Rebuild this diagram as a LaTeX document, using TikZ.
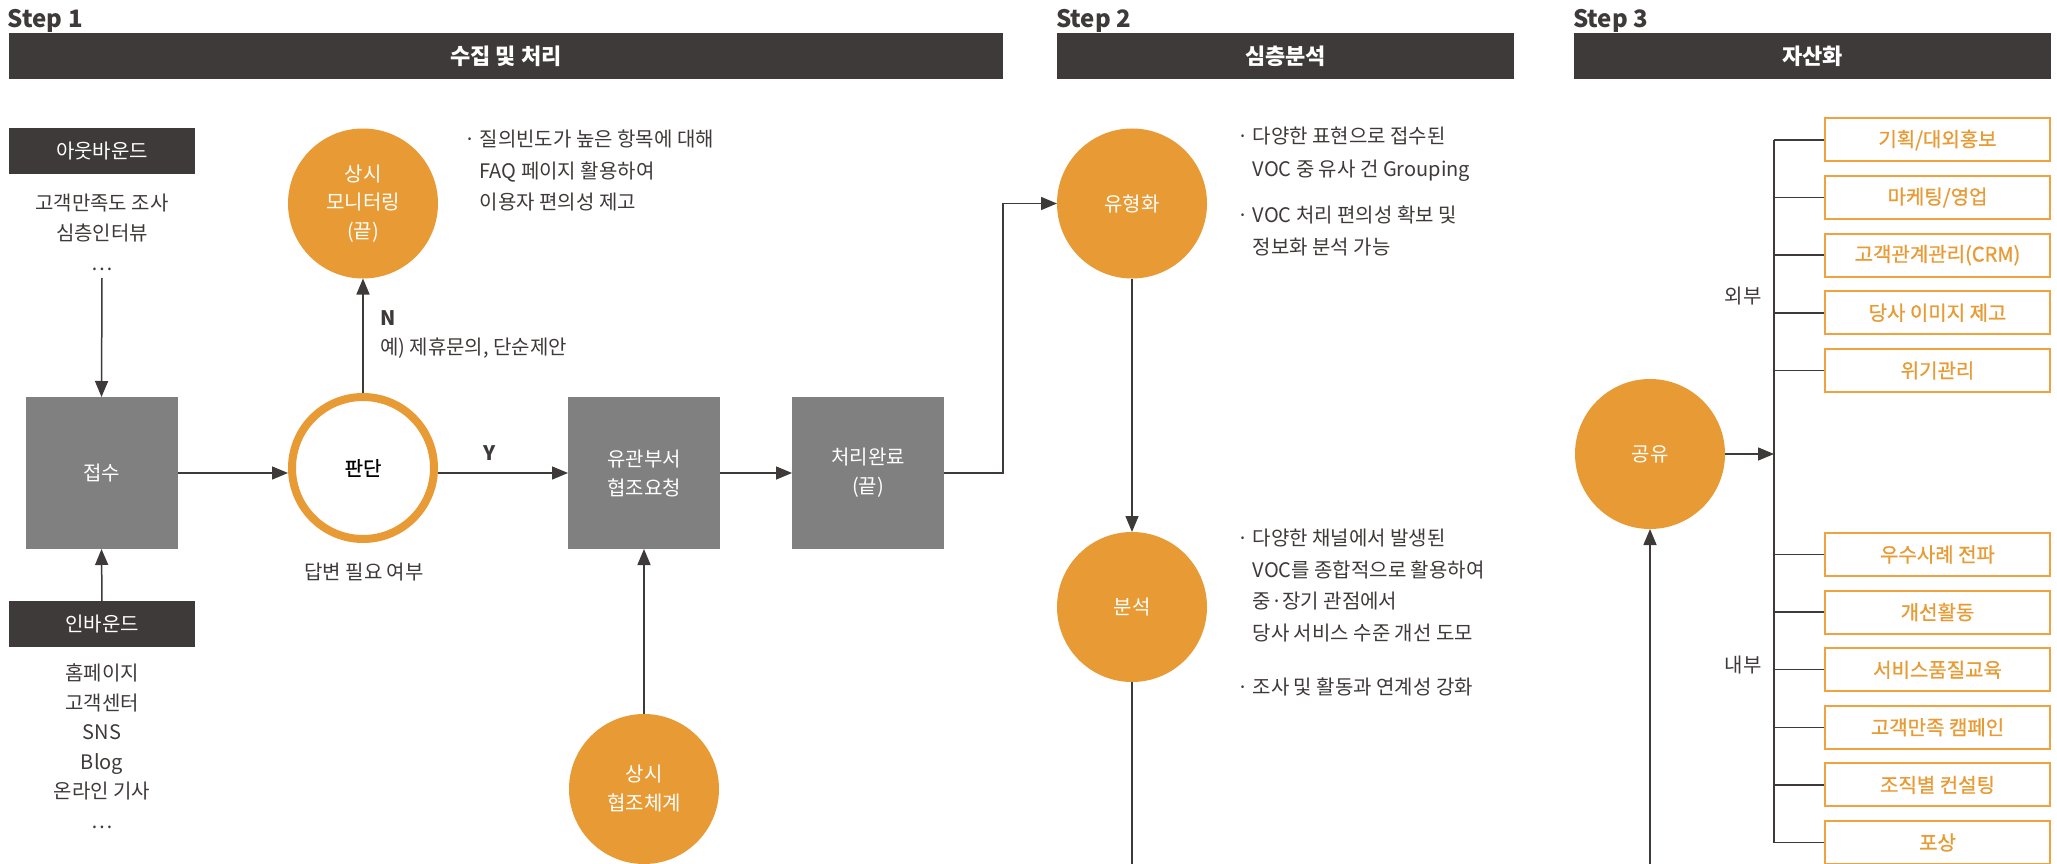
\documentclass[tikz,border=0pt]{standalone}
\usepackage{fontspec}
\setmainfont{Noto Sans CJK KR}
\newfontfamily\medfont{Noto Sans CJK KR}[FakeBold=0.8]
\usetikzlibrary{arrows.meta,calc}
\definecolor{dark}{HTML}{3E3A39}
\definecolor{orng}{HTML}{E89B34}
\definecolor{oline}{HTML}{EFA23F}
\definecolor{gbox}{HTML}{808080}
\begin{document}
\begin{tikzpicture}[x=1pt,y=-1pt,
  every node/.style={inner sep=0pt,outer sep=0pt,text=dark},
  steplbl/.style={font=\bfseries\fontsize{24pt}{24pt}\selectfont,anchor=base west},
  bar/.style={fill=dark,text=white,minimum height=46pt,font=\bfseries\fontsize{22pt}{22pt}\selectfont},
  darkbox/.style={fill=dark,text=white,minimum width=186pt,minimum height=46pt,font=\fontsize{20pt}{20pt}\selectfont},
  graybox/.style={fill=gbox,text=white,minimum size=152pt,align=center,font=\fontsize{20pt}{29pt}\selectfont},
  ocircle/.style={circle,fill=orng,text=white,minimum size=150pt,align=center,font=\fontsize{20pt}{28.5pt}\selectfont},
  ring/.style={circle,draw=orng,line width=8pt,fill=white,text=black,minimum size=142pt,outer sep=4pt,font=\medfont\fontsize{20pt}{20pt}\selectfont},
  obox/.style={draw=oline,line width=2pt,fill=white,text=orng,minimum width=225pt,minimum height=43pt,outer sep=1pt,font=\medfont\fontsize{20pt}{20pt}\selectfont},
  body/.style={font=\fontsize{20pt}{31.5pt}\selectfont},
  lbl/.style={font=\fontsize{20pt}{20pt}\selectfont},
  lblb/.style={font=\bfseries\fontsize{20pt}{20pt}\selectfont},
  ln/.style={draw=dark,line width=1.5pt},
  arr/.style={draw=dark,line width=1.5pt,-{Triangle[length=16pt,width=13pt]}}
]
\useasboundingbox (0,0) rectangle (2057,864);
\fill[white] (0,0) rectangle (2057,864);

% ---------- headers ----------
\node[steplbl] (s1) at (8,28) {Step 1};
\node[steplbl] (s2) at (1056,28) {Step 2};
\node[steplbl] (s3) at (1573,28) {Step 3};
\node[bar,minimum width=994pt] (bar1) at (506,56) {수집 및 처리};
\node[bar,minimum width=457pt] (bar2) at (1285.5,56) {심층분석};
\node[bar,minimum width=477pt] (bar3) at (1812.5,56) {자산화};

% ---------- Step 1 ----------
\node[darkbox] (outb) at (102,151) {아웃바운드};
\node[align=center,anchor=north,font=\fontsize{20pt}{30pt}\selectfont] (outlist) at (102,194) {고객만족도 조사\\심층인터뷰\\…};
\coordinate (outend) at (102,278);
\node[graybox] (jeopsu) at (101.5,473) {접수};
\node[darkbox] (inb) at (102,624) {인바운드};
\node[align=center,anchor=north,font=\fontsize{20pt}{29.5pt}\selectfont] (inlist) at (102,664) {홈페이지\\고객센터\\SNS\\Blog\\온라인 기사\\…};

\node[ring] (pandan) at (363,468) {판단};
\node[lbl] (pandanlbl) at (364,572) {답변 필요 여부};
\node[ocircle] (monitor) at (363,203.5) {상시\\모니터링\\(끝)};
\node[lblb,anchor=west] (nlbl) at (380,318) {N};
\node[lbl,anchor=west] (nex) at (380,348) {예) 제휴문의, 단순제안};
\node[lblb] (ylbl) at (490,453) {Y};
\node[body,align=left,anchor=north west] (note1) at (464,130) {·\ 질의빈도가 높은 항목에 대해\\\hphantom{·\ }FAQ 페이지 활용하여\\\hphantom{·\ }이용자 편의성 제고};

\node[graybox] (yugwan) at (644,473) {유관부서\\협조요청};
\node[graybox] (cheori) at (868,473) {처리완료\\(끝)};
\node[ocircle,font=\fontsize{20pt}{29pt}\selectfont] (hyeopjo) at (644,789) {상시\\협조체계};
\coordinate (elbow) at (1003,300);

\draw[arr] (outend) -- (jeopsu.north);
\draw[arr] (inb.north) -- (jeopsu.south);
\draw[arr] (jeopsu.east) -- (jeopsu.east -| pandan.west);
\draw[arr] (pandan.north) -- (monitor.south);
\draw[arr] (pandan.east |- yugwan.west) -- (yugwan.west);
\draw[arr] (yugwan.east) -- (cheori.west);
\draw[arr] (hyeopjo.north) -- (yugwan.south);

% ---------- Step 2 ----------
\node[ocircle] (yuhyeong) at (1132,203.5) {유형화};
\node[ocircle] (bunseok) at (1132,607) {분석};
\coordinate (bot2) at (1132,880);
\draw[arr] (cheori.east) -- (cheori.east -| elbow) |- (yuhyeong.west);
\draw[arr] (yuhyeong.south) -- (bunseok.north);
\draw[ln] (bunseok.south) -- (bot2);

\node[body,align=left,anchor=north west,font=\fontsize{20pt}{33pt}\selectfont] (note2) at (1237,127) {·\ 다양한 표현으로 접수된\\\hphantom{·\ }VOC 중 유사 건 Grouping};
\node[body,align=left,anchor=north west,font=\fontsize{20pt}{31.5pt}\selectfont] (note3) at (1237,206) {·\ VOC 처리 편의성 확보 및\\\hphantom{·\ }정보화 분석 가능};
\node[body,align=left,anchor=north west] (note4) at (1237,529) {·\ 다양한 채널에서 발생된\\\hphantom{·\ }VOC를 종합적으로 활용하여\\\hphantom{·\ }중·장기 관점에서\\\hphantom{·\ }당사 서비스 수준 개선 도모};
\node[body,align=left,anchor=north west] (note5) at (1237,678) {·\ 조사 및 활동과 연계성 강화};

% ---------- Step 3 ----------
\node[ocircle] (gongyu) at (1650,454) {공유};
\coordinate (bot3) at (1650,880);
\coordinate (trtop) at (1774,140);
\coordinate (trbot) at (1774,842.5);
\draw[arr] (bot3) -- (gongyu.south);
\draw[ln] (trtop) -- (trbot);
\draw[arr] (gongyu.east) -- (gongyu.east -| trtop);
\node[lbl] (oebu) at (1743,296) {외부};
\node[lbl] (naebu) at (1743,665) {내부};

\foreach \nm/\yy/\tx in {e1/140/{기획/대외홍보}, e2/197.6/{마케팅/영업}, e3/255.2/{고객관계관리(CRM)}, e4/312.8/{당사 이미지 제고}, e5/370.4/{위기관리},
  i1/554.5/{우수사례 전파}, i2/612.1/{개선활동}, i3/669.7/{서비스품질교육}, i4/727.3/{고객만족 캠페인}, i5/784.9/{조직별 컨설팅}, i6/842.5/{포상}}{
  \node[obox] (\nm) at (1937.5,\yy) {\tx};
  \draw[ln] (\nm.west -| trtop) -- (\nm.west);
}
\end{tikzpicture}
\end{document}
